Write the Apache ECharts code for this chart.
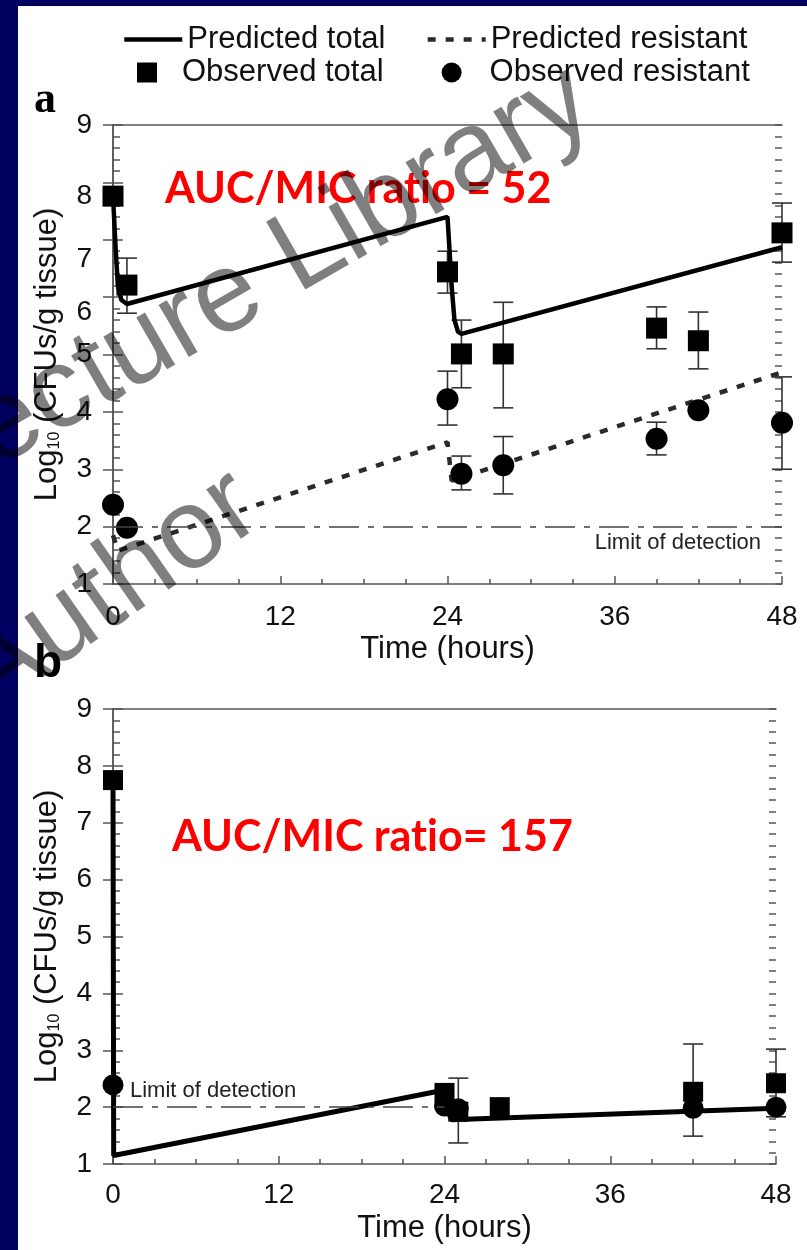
<!DOCTYPE html>
<html>
<head>
<meta charset="utf-8">
<title>Bacterial density vs time</title>
<script src="https://cdn.jsdelivr.net/npm/echarts@6/dist/echarts.min.js"></script>
<style>
  html, body { margin: 0; padding: 0; background: #000060; }
  #chart { width: 807px; height: 1250px; }
</style>
</head>
<body>
<div id="chart"></div>
<script>
// ---- Panel a: AUC/MIC ratio = 52 ----
const predTotalA_t = [0, 0.2, 0.35, 0.6, 1.0, 24, 24.15, 24.3, 24.5, 24.75, 25.0, 48];
const predTotalA_v = [7.76, 6.8, 6.2, 5.95, 5.88, 7.40, 6.8, 6.18, 5.6, 5.40, 5.36, 6.87];
const predResA_t = [0, 0.35, 24, 24.3, 48];
const predResA_v = [1.85, 1.58, 3.47, 2.80, 4.69];
const obsTotalA_t = [0, 1, 24, 25, 28, 39, 42, 48];
const obsTotalA_v = [7.76, 6.21, 6.44, 5.01, 5.01, 5.46, 5.24, 7.12];
const obsTotalA_hi = [null, 6.68, 6.80, 5.60, 5.91, 5.83, 5.74, 7.64];
const obsTotalA_lo = [null, 5.72, 6.07, 4.42, 4.07, 5.10, 4.75, 6.61];
const obsResA_t = [0, 1, 24, 25, 28, 39, 42, 48];
const obsResA_v = [2.38, 1.98, 4.22, 2.92, 3.07, 3.53, 4.03, 3.81];
const obsResA_hi = [null, null, 4.71, 3.23, 3.57, 3.82, null, 4.61];
const obsResA_lo = [null, null, 3.77, 2.64, 2.57, 3.25, null, 3.00];

// ---- Panel b: AUC/MIC ratio = 157 ----
const predTotalB_t = [0, 0.05, 24, 24.2, 24.5, 48];
const predTotalB_v = [7.75, 1.15, 2.30, 1.95, 1.78, 1.98];
const obsTotalB_t = [0, 24, 25, 28, 42, 48];
const obsTotalB_v = [7.75, 2.25, 1.92, 2.0, 2.27, 2.42];
const obsTotalB_hi = [null, null, 2.51, null, 3.11, 3.02];
const obsTotalB_lo = [null, null, 1.37, null, 1.49, 1.83];
const obsResB_t = [0, 24, 25, 42, 48];
const obsResB_v = [2.39, 2.02, 1.97, 1.98, 2.0];

const detectionLimit = 2;
const timeRange = [0, 48];
const logRange = [1, 9];

const FONT = '"Liberation Sans", Arial, Helvetica, sans-serif';
const AXIS_COLOR = '#555';
const TEXT_COLOR = '#111';

const zip = (t, v) => t.map((x, i) => [x, v[i]]);

// Vertical error bars with caps, positioned through the axes
function errorBars(t, lo, hi, xi, yi) {
  const data = [];
  t.forEach((x, i) => { if (lo[i] != null && hi[i] != null) data.push([x, lo[i], hi[i]]); });
  return {
    type: 'custom', xAxisIndex: xi, yAxisIndex: yi, data, z: 1, silent: true,
    encode: { x: 0, y: [1, 2] },
    renderItem(params, api) {
      const x = api.value(0);
      const p1 = api.coord([x, api.value(1)]);
      const p2 = api.coord([x, api.value(2)]);
      const cap = 10;
      const st = { stroke: '#333', lineWidth: 1.6 };
      return {
        type: 'group',
        children: [
          { type: 'line', shape: { x1: p1[0], y1: p1[1], x2: p2[0], y2: p2[1] }, style: st },
          { type: 'line', shape: { x1: p1[0] - cap, y1: p1[1], x2: p1[0] + cap, y2: p1[1] }, style: st },
          { type: 'line', shape: { x1: p2[0] - cap, y1: p2[1], x2: p2[0] + cap, y2: p2[1] }, style: st }
        ]
      };
    }
  };
}

const lineStyleAxis = { color: AXIS_COLOR, width: 1.5 };

// Axis that only carries short inward ticks (no line, no labels)
function tickOnly(gridIndex, position, range, interval, length) {
  return {
    type: 'value', gridIndex, position, min: range[0], max: range[1], interval,
    axisLine: { show: false },
    axisTick: { show: true, inside: true, length, lineStyle: lineStyleAxis },
    axisLabel: { show: false }, splitLine: { show: false }
  };
}

function xAxes(gridIndex, labelMargin, nameGap) {
  return [
    {
      type: 'value', gridIndex, position: 'bottom', min: timeRange[0], max: timeRange[1], interval: 12,
      axisLine: { lineStyle: lineStyleAxis },
      axisTick: { inside: true, length: 8, lineStyle: lineStyleAxis },
      splitLine: { show: false },
      axisLabel: { fontSize: 28, color: TEXT_COLOR, fontFamily: FONT, margin: labelMargin },
      name: 'Time (hours)', nameLocation: 'middle', nameGap,
      nameTextStyle: { fontSize: 31, color: TEXT_COLOR, fontFamily: FONT }
    },
    tickOnly(gridIndex, 'bottom', timeRange, 3, 5),
    {
      type: 'value', gridIndex, position: 'top', min: timeRange[0], max: timeRange[1], interval: 12,
      axisLine: { lineStyle: lineStyleAxis },
      axisTick: { show: false }, axisLabel: { show: false }, splitLine: { show: false }
    }
  ];
}

function yAxes(gridIndex, labelShift) {
  const rich = {};
  Object.values(labelShift).forEach(s => { rich['d' + s] = { padding: [2 * s, 0, 0, 0] }; });
  return [
    {
      type: 'value', gridIndex, position: 'left', min: logRange[0], max: logRange[1], interval: 1,
      axisLine: { lineStyle: lineStyleAxis },
      axisTick: { inside: true, length: 10, lineStyle: lineStyleAxis },
      splitLine: { show: false },
      axisLabel: {
        fontSize: 28, color: TEXT_COLOR, fontFamily: FONT, margin: 21,
        formatter: v => labelShift[v] ? '{d' + labelShift[v] + '|' + v + '}' : String(v),
        rich
      },
      name: '{t|Log}{s|10}{t| (CFUs/g tissue)}', nameLocation: 'middle', nameRotate: 90, nameGap: 50,
      nameTextStyle: {
        rich: {
          t: { fontSize: 31, color: TEXT_COLOR, fontFamily: FONT },
          s: { fontSize: 16, color: TEXT_COLOR, fontFamily: FONT, verticalAlign: 'bottom' }
        }
      }
    },
    tickOnly(gridIndex, 'left', logRange, 0.2, 7),
    {
      type: 'value', gridIndex, position: 'right', min: logRange[0], max: logRange[1], interval: 1,
      axisLine: { lineStyle: lineStyleAxis },
      axisTick: { inside: true, length: 10, lineStyle: lineStyleAxis },
      splitLine: { show: false }, axisLabel: { show: false }
    },
    tickOnly(gridIndex, 'right', logRange, 0.2, 7)
  ];
}

const totalLine = { color: '#000', width: 4.5 };
const resistantLine = { color: '#2a2a2a', width: 4.5, type: [8, 10] };

function lodLine(data, labelPos, pad) {
  return {
    silent: true, symbol: 'none',
    lineStyle: { color: '#444', width: 1.5, type: [30, 9, 6, 9] },
    label: { show: true, position: labelPos, formatter: 'Limit of detection', fontSize: 22, color: '#222', fontFamily: FONT, distance: 5, padding: pad },
    data
  };
}

const hiddenMarker = { color: 'rgba(0,0,0,0)', opacity: 0, borderWidth: 0 };
const redTitle = { color: '#ff0000', fontFamily: 'Lato', fontWeight: 'bold', fontSize: 43 };
const watermarkStyle = { font: '114px "Liberation Sans"', fill: 'rgba(0,0,0,0.5)', textAlign: 'center', textVerticalAlign: 'middle', align: 'center', verticalAlign: 'middle' };

const option = {
  backgroundColor: '#000060',
  animation: false,
  graphic: [
    { type: 'rect', shape: { x: 18, y: 6, width: 789, height: 1244 }, style: { fill: '#fff' }, z: -100, silent: true },
    { type: 'text', x: 254, y: 283, rotation: 30 * Math.PI / 180, z: 100, silent: true, style: Object.assign({ text: 'Lecture Library' }, watermarkStyle) },
    { type: 'text', x: 110, y: 592, rotation: 35 * Math.PI / 180, z: 100, silent: true, style: Object.assign({ text: 'Author' }, watermarkStyle) }
  ],
  title: [
    { text: 'AUC/MIC rat\u200Cio = 52', left: 165, top: 168, padding: 0, textStyle: redTitle },
    { text: 'AUC/MIC rat\u200Cio= 157', left: 172, top: 816, padding: 0, textStyle: redTitle },
    { text: 'a', left: 34, top: 79, padding: 0, textStyle: { color: '#000', fontFamily: '"Liberation Serif"', fontWeight: 'bold', fontSize: 44 } },
    { text: 'b', left: 34, top: 641, padding: 0, textStyle: { color: '#000', fontFamily: FONT, fontWeight: 'bold', fontSize: 46 } }
  ],
  legend: [
    {
      data: [
        { name: 'Predicted total', itemStyle: hiddenMarker },
        { name: 'Predicted resistant', itemStyle: hiddenMarker }
      ],
      left: 122, top: 24, padding: 0, itemWidth: 58, itemHeight: 20, itemGap: 40,
      lineStyle: { width: 4.5 },
      selectedMode: false, textStyle: { fontSize: 31, color: TEXT_COLOR, fontFamily: FONT }
    },
    {
      data: [
        { name: 'Observed total', textStyle: { padding: [0, 0, 0, 20] } },
        { name: 'Observed resistant', textStyle: { padding: [0, 0, 0, 23] } }
      ],
      left: 137, top: 57, padding: 0, itemWidth: 20, itemHeight: 20, itemGap: 58,
      selectedMode: false, textStyle: { fontSize: 31, color: TEXT_COLOR, fontFamily: FONT }
    }
  ],
  grid: [
    { left: 113, top: 125, width: 669, height: 459 },
    { left: 113, top: 709, width: 663, height: 455 }
  ],
  xAxis: [...xAxes(0, 19, 50), ...xAxes(1, 17, 49)],
  yAxis: [...yAxes(0, { 8: 14, 7: 20, 6: 15 }), ...yAxes(1, {})],
  series: [
    // panel a
    {
      name: 'Predicted total', type: 'line', xAxisIndex: 0, yAxisIndex: 0, data: zip(predTotalA_t, predTotalA_v),
      symbol: 'none', lineStyle: totalLine, itemStyle: { color: '#000' }, z: 3,
      markLine: lodLine([{ yAxis: detectionLimit }], 'insideEndBottom', [0, 16, 0, 0])
    },
    {
      name: 'Predicted resistant', type: 'line', xAxisIndex: 0, yAxisIndex: 0, data: zip(predResA_t, predResA_v),
      symbol: 'none', lineStyle: resistantLine, itemStyle: { color: '#2a2a2a' }, z: 3
    },
    errorBars(obsTotalA_t, obsTotalA_lo, obsTotalA_hi, 0, 0),
    errorBars(obsResA_t, obsResA_lo, obsResA_hi, 0, 0),
    {
      name: 'Observed total', type: 'scatter', xAxisIndex: 0, yAxisIndex: 0, data: zip(obsTotalA_t, obsTotalA_v),
      symbol: 'rect', symbolSize: 21, itemStyle: { color: '#000', opacity: 1 }, z: 4
    },
    {
      name: 'Observed resistant', type: 'scatter', xAxisIndex: 0, yAxisIndex: 0, data: zip(obsResA_t, obsResA_v),
      symbol: 'circle', symbolSize: 22, itemStyle: { color: '#000', opacity: 1 }, z: 4
    },
    // panel b
    {
      name: 'Predicted total', type: 'line', xAxisIndex: 3, yAxisIndex: 4, data: zip(predTotalB_t, predTotalB_v),
      symbol: 'none', lineStyle: { color: '#000', width: 5 }, itemStyle: { color: '#000' }, z: 3,
      markLine: lodLine([[{ coord: [0, detectionLimit] }, { coord: [24, detectionLimit] }]], 'insideStartTop', [0, 0, 0, 12])
    },
    errorBars(obsTotalB_t, obsTotalB_lo, obsTotalB_hi, 3, 4),
    {
      name: 'Observed total', type: 'scatter', xAxisIndex: 3, yAxisIndex: 4, data: zip(obsTotalB_t, obsTotalB_v),
      symbol: 'rect', symbolSize: 20, itemStyle: { color: '#000', opacity: 1 }, z: 4
    },
    {
      name: 'Observed resistant', type: 'scatter', xAxisIndex: 3, yAxisIndex: 4, data: zip(obsResB_t, obsResB_v),
      symbol: 'circle', symbolSize: 21, itemStyle: { color: '#000', opacity: 1 }, z: 4
    }
  ]
};

const chart = echarts.init(document.getElementById('chart'), null, { renderer: 'canvas' });
chart.setOption(option);
</script>
</body>
</html>
